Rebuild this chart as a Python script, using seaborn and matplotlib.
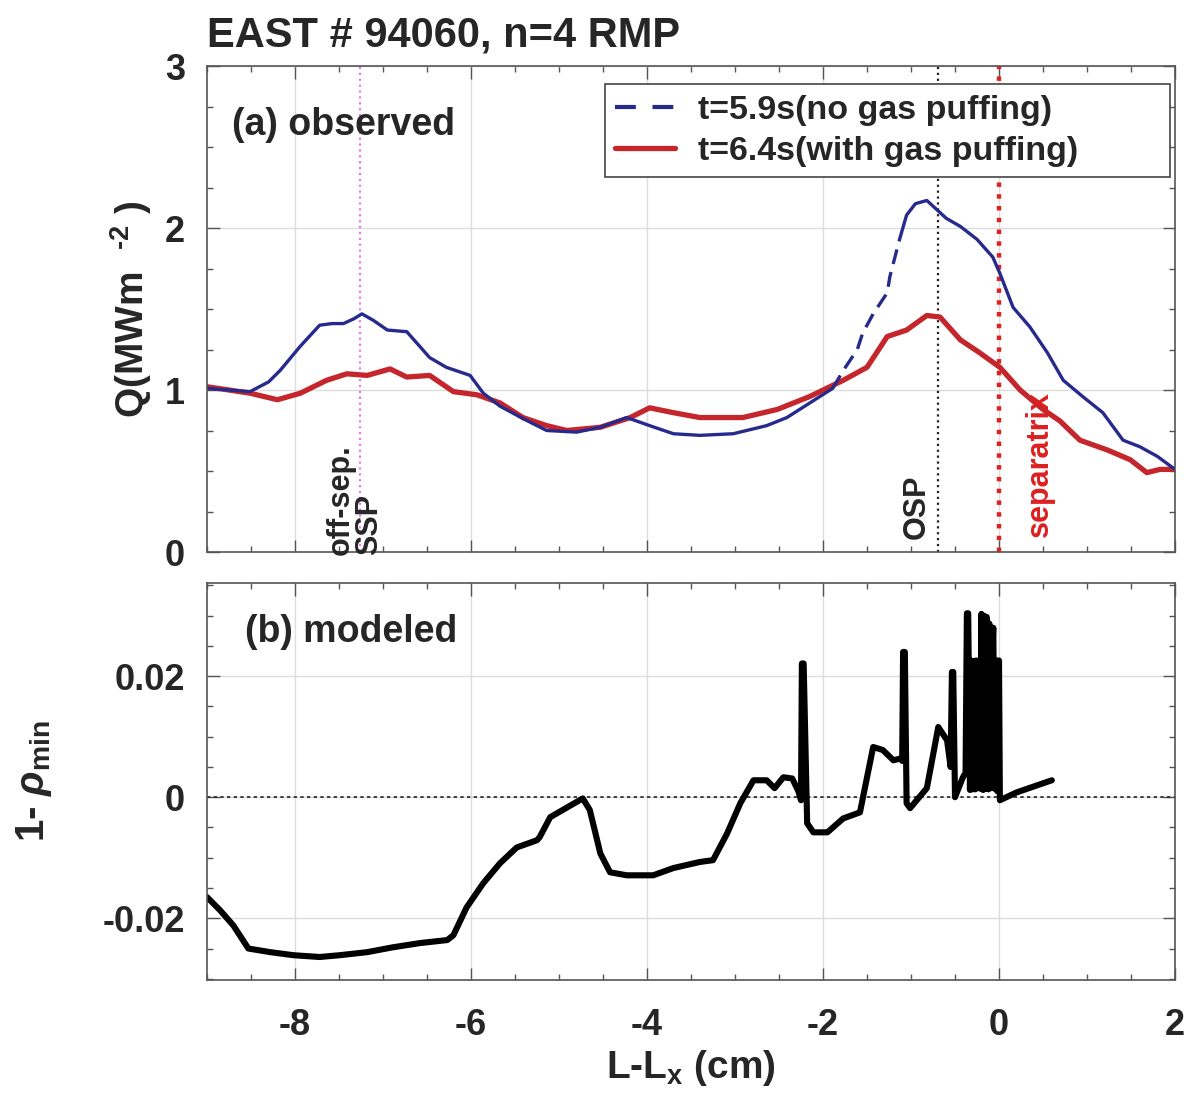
import numpy as np
import pandas as pd
import matplotlib
matplotlib.use('Agg')
import matplotlib.pyplot as plt
import seaborn as sns
from matplotlib.lines import Line2D
from matplotlib.ticker import MultipleLocator, FuncFormatter

# ---------------- data ----------------
blue_x = [-9.00, -8.75, -8.51, -8.30, -8.17, -7.94, -7.72, -7.58, -7.45, -7.33, -7.24, -7.11,
          -6.95, -6.73, -6.60, -6.47, -6.28, -6.01, -5.86, -5.67, -5.36, -5.14, -4.80, -4.53,
          -4.23, -3.97, -3.70, -3.40, -3.02, -2.64, -2.41, -2.15, -1.89, -1.77, -1.61, -1.55,
          -1.43, -1.27, -1.24, -1.13, -1.05, -0.95, -0.82, -0.72, -0.60, -0.44, -0.25, -0.07,
          0.01, 0.16, 0.35, 0.55, 0.73, 0.95, 1.18, 1.41, 1.60, 1.80, 2.00]
blue_y = [1.01, 1.00, 0.99, 1.05, 1.12, 1.27, 1.40, 1.41, 1.41, 1.44, 1.47, 1.43,
          1.37, 1.36, 1.28, 1.20, 1.14, 1.09, 0.98, 0.90, 0.81, 0.75, 0.74, 0.77,
          0.83, 0.78, 0.73, 0.72, 0.73, 0.78, 0.83, 0.92, 1.01, 1.12, 1.25, 1.35,
          1.47, 1.60, 1.70, 1.93, 2.08, 2.15, 2.17, 2.12, 2.06, 2.01, 1.93, 1.82,
          1.72, 1.51, 1.39, 1.23, 1.06, 0.96, 0.86, 0.69, 0.65, 0.59, 0.51]

red_x = [-9.00, -8.75, -8.51, -8.20, -7.94, -7.64, -7.41, -7.18, -6.92, -6.73, -6.47, -6.20,
         -5.93, -5.67, -5.41, -5.14, -4.91, -4.53, -4.19, -3.97, -3.70, -3.40, -2.91, -2.52,
         -2.15, -1.77, -1.50, -1.27, -1.05, -0.82, -0.67, -0.44, -0.22, 0.01, 0.24, 0.50,
         0.69, 0.92, 1.23, 1.49, 1.68, 1.83, 2.00]
red_y = [1.02, 1.00, 0.98, 0.94, 0.98, 1.06, 1.10, 1.09, 1.13, 1.08, 1.09, 0.99,
         0.97, 0.92, 0.83, 0.78, 0.75, 0.77, 0.83, 0.89, 0.86, 0.83, 0.83, 0.88,
         0.96, 1.06, 1.14, 1.33, 1.37, 1.46, 1.45, 1.31, 1.23, 1.14, 1.00, 0.88,
         0.81, 0.69, 0.63, 0.57, 0.49, 0.51, 0.51]

rho_x = [-9.00, -8.85, -8.70, -8.53, -8.28, -8.02, -7.72, -7.49, -7.18, -6.89, -6.58, -6.27,
         -6.20, -6.05, -5.86, -5.67, -5.48, -5.25, -5.22, -5.10, -4.91, -4.73, -4.65, -4.53,
         -4.42, -4.23, -3.93, -3.70, -3.40, -3.25, -3.09, -2.94, -2.79, -2.64, -2.55, -2.45,
         -2.35, -2.28, -2.25, -2.24, -2.22, -2.18, -2.11, -1.95, -1.77, -1.58, -1.43, -1.32,
         -1.20, -1.12, -1.10, -1.09, -1.07, -1.05, -1.01, -0.82, -0.69, -0.59, -0.55, -0.535,
         -0.52, -0.50, -0.41, -0.38, -0.365, -0.35, -0.33, -0.32, -0.30, -0.29, -0.27, -0.26,
         -0.24, -0.23, -0.21, -0.20, -0.18, -0.17, -0.15, -0.14, -0.12, -0.11, -0.09, -0.08,
         -0.065, -0.05, -0.03, -0.02, 0.00, 0.01, 0.20, 0.40, 0.60]
rho_y = [-0.0165, -0.0187, -0.0212, -0.0250, -0.0256, -0.0261, -0.0264, -0.0261, -0.0256, -0.0248, -0.0241, -0.0236,
         -0.0228, -0.0182, -0.0142, -0.0109, -0.0083, -0.0071, -0.0066, -0.0033, -0.0017, -0.0002, -0.0021, -0.0093,
         -0.0124, -0.0129, -0.0129, -0.0117, -0.0107, -0.0104, -0.0060, -0.0010, 0.0028, 0.0028, 0.0015, 0.0033,
         0.0031, 0.0010, -0.0005, 0.0221, 0.0221, -0.0043, -0.0058, -0.0058, -0.0035, -0.0025, 0.0083, 0.0078,
         0.0061, 0.0064, 0.0060, 0.0240, 0.0240, -0.0010, -0.0018, 0.0015, 0.0116, 0.0094, 0.0050, 0.0207,
         0.0207, 0.0000, 0.0033, 0.0040, 0.0304, 0.0304, 0.0012, 0.0226, 0.0013, 0.0225, 0.0013, 0.0226,
         0.0015, 0.0222, 0.0014, 0.0303, 0.0012, 0.0300, 0.0014, 0.0298, 0.0013, 0.0287, 0.0015, 0.0226,
         0.0280, 0.0014, 0.0226, 0.0010, 0.0226, -0.0005, 0.0008, 0.0018, 0.0028]

legend_labels = ['t=5.9s(no gas puffing)', 't=6.4s(with gas puffing)']
ssp_x, osp_x, sep_x = -7.26, -0.69, 0.0
dash_lo, dash_hi = -1.89, -1.13

BLUE = '#262a8c'
RED = '#c4262b'

# ---------------- style ----------------
sns.set_theme(style='ticks')
plt.rcParams['font.family'] = ['Liberation Sans', 'DejaVu Sans']
plt.rcParams['font.weight'] = 'bold'
plt.rcParams['axes.labelweight'] = 'bold'
plt.rcParams['mathtext.fontset'] = 'custom'
plt.rcParams['mathtext.rm'] = 'Liberation Sans:bold'
plt.rcParams['mathtext.bf'] = 'Liberation Sans:bold'
plt.rcParams['mathtext.it'] = 'Liberation Sans:italic'
plt.rcParams['mathtext.default'] = 'rm'

W, H = 1187, 1102
fig = plt.figure(figsize=(W / 100, H / 100), dpi=100)
ax1 = fig.add_axes([207 / W, 1 - 552 / H, 968 / W, 486 / H])
ax2 = fig.add_axes([207 / W, 1 - 980 / H, 968 / W, 397 / H])

TICK_FS = 26
for ax in (ax1, ax2):
    ax.set_xlim(-9, 2)
    ax.xaxis.set_major_locator(MultipleLocator(2))
    ax.xaxis.set_minor_locator(MultipleLocator(0.5))
    ax.grid(True, which='major', color='#dcdcdc', lw=1.0)
    ax.set_axisbelow(True)
    ax.tick_params(which='both', direction='in', top=True, right=True,
                   color='#555555', width=1.0, labelsize=TICK_FS)
    ax.tick_params(which='major', length=9, pad=16)
    ax.tick_params(which='minor', length=4.5)
    for s in ax.spines.values():
        s.set_color('#555555')
        s.set_linewidth(1.2)

# ---------------- panel (a) ----------------
bx = np.array(blue_x); by = np.array(blue_y)
df_blue = pd.DataFrame({'x': bx, 'y': by})
seg1 = df_blue[df_blue.x <= dash_lo]
seg2 = df_blue[(df_blue.x >= dash_lo) & (df_blue.x <= dash_hi)]
seg3 = df_blue[df_blue.x >= dash_hi]
df_red = pd.DataFrame({'x': red_x, 'y': red_y})

ax1.axvline(ssp_x, color='#e879e8', ls=':', lw=1.6, zorder=1)
ax1.axvline(osp_x, color='#222222', ls=':', lw=1.6, zorder=1)
ax1.axvline(sep_x, color='#dd2020', ls=':', lw=3.2, zorder=1)

sns.lineplot(data=df_red, x='x', y='y', ax=ax1, color=RED, lw=3.8, sort=False,
             estimator=None, legend=False)
for seg, ls in ((seg1, '-'), (seg2, (0, (4.5, 2.5))), (seg3, '-')):
    sns.lineplot(data=seg, x='x', y='y', ax=ax1, color=BLUE, lw=2.4, sort=False,
                 estimator=None, legend=False, linestyle=ls)

ax1.set_ylim(0, 3)
ax1.yaxis.set_major_locator(MultipleLocator(1))
ax1.yaxis.set_minor_locator(MultipleLocator(0.25))
ax1.tick_params(labelbottom=False)
ax1.set_xlabel('')
ax1.set_ylabel(r'Q(MWm  $^{\text{-2}}$ )', fontsize=28, fontweight='bold')
ax1.yaxis.set_label_coords(-0.055, 0.5)
ax1.set_title('EAST # 94060, n=4 RMP', loc='left', fontsize=30, fontweight='bold', pad=14)

ax1.text(0.026, 0.879, '(a) observed', transform=ax1.transAxes, fontsize=27,
         fontweight='bold', ha='left', va='center')
ax1.text(-7.32, -0.02, 'off-sep.\nSSP', rotation=90, fontsize=22, fontweight='bold',
         ha='center', va='bottom', multialignment='left', linespacing=0.95)
ax1.text(-0.93, 0.08, 'OSP', rotation=90, fontsize=22, fontweight='bold',
         ha='center', va='bottom')
ax1.text(0.47, 0.09, 'separatrix', rotation=90, fontsize=22, fontweight='bold',
         color='#dd2020', ha='center', va='bottom')

handles = [Line2D([], [], color=BLUE, lw=3.0, ls=(0, (5, 4))),
           Line2D([], [], color=RED, lw=3.8, ls='-')]
leg = ax1.legend(handles, legend_labels, loc='upper left',
                 bbox_to_anchor=(0.411, 0.776, 0.584, 0.186), mode='expand',
                 fontsize=24.5, frameon=True, fancybox=False, edgecolor='#444444',
                 framealpha=1.0, handlelength=1.75, handletextpad=0.7,
                 borderpad=0.3, labelspacing=0.3, borderaxespad=0.0)
leg.get_frame().set_linewidth(1.2)

# ---------------- panel (b) ----------------
df_rho = pd.DataFrame({'x': rho_x, 'y': rho_y})
ax2.axhline(0, color='#222222', ls=(0, (2, 2)), lw=1.2, zorder=1)
sns.lineplot(data=df_rho, x='x', y='y', ax=ax2, color='black', lw=4.4, sort=False,
             estimator=None, legend=False)
ax2.set_ylim(-0.0302, 0.0354)
ax2.yaxis.set_major_locator(MultipleLocator(0.02))
ax2.yaxis.set_minor_locator(MultipleLocator(0.005))
ax2.yaxis.set_major_formatter(FuncFormatter(lambda v, p: '0' if abs(v) < 1e-9 else f'{v:g}'))
ax2.xaxis.set_major_formatter(FuncFormatter(lambda v, p: '0' if abs(v) < 1e-9 else f'{v:g}'))
ax2.tick_params(axis='x', which='major', pad=20)
ax2.set_ylabel(r'1- $\mathit{\rho}_{\mathrm{min}}$', fontsize=29, fontweight='bold')
ax2.yaxis.set_label_coords(-0.158, 0.5)
ax2.set_xlabel(r'L-L$_{\mathrm{x}}$ (cm)', fontsize=28, fontweight='bold', labelpad=4)
ax2.text(0.039, 0.877, '(b) modeled', transform=ax2.transAxes, fontsize=27,
         fontweight='bold', ha='left', va='center')

fig.savefig('out.png', dpi=100)
